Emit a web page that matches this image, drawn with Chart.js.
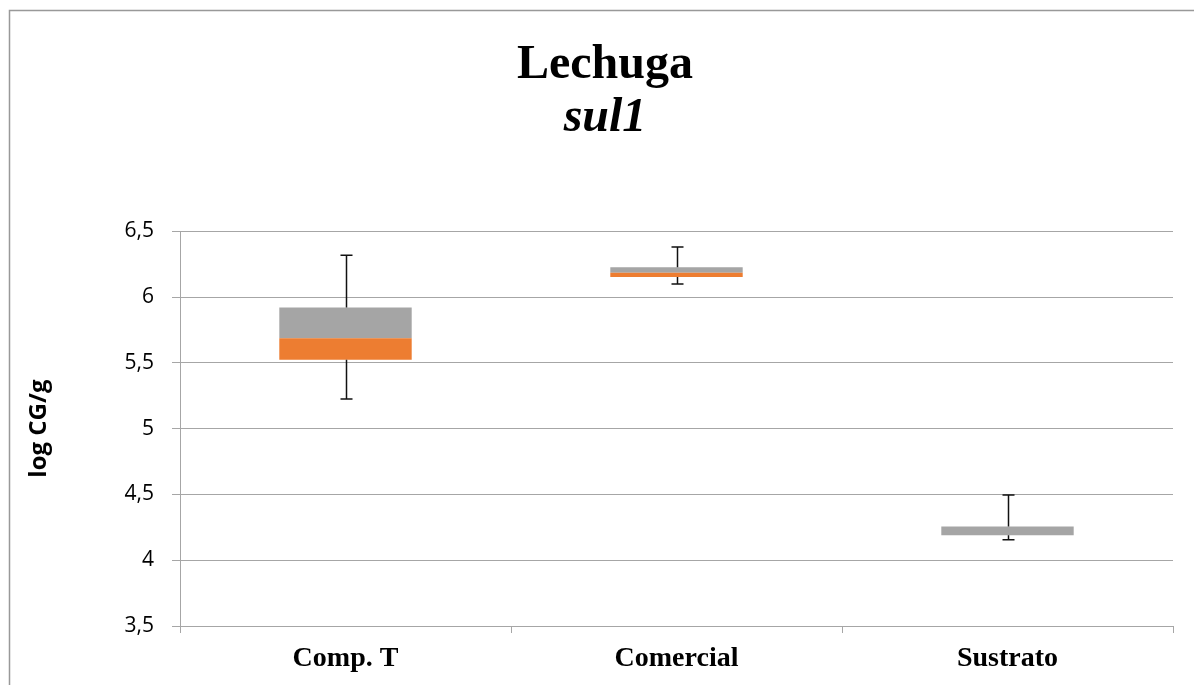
<!DOCTYPE html>
<html>
<head>
    <title>Lechuga sul1</title>
    <script src="https://cdn.jsdelivr.net/npm/chart.js@4/dist/chart.umd.min.js"></script>
    <style>
        html, body {
            margin: 0;
            padding: 0;
            background: #fff;
        }
        .chart-box {
            width: 1194px;
            height: 685px;
            position: relative;
        }
    </style>
</head>
<body>
    <div class="chart-box">
        <canvas id="graph"></canvas>
    </div>

    <script>
        // Box plot values per category (log CG/g)
        const categories = ['Comp. T', 'Comercial', 'Sustrato'];
        const minVals = [5.225, 6.098, 4.156];
        const q1Vals = [5.523, 6.152, 4.19];
        const medianVals = [5.687, 6.185, 4.19];
        const q3Vals = [5.92, 6.226, 4.256];
        const maxVals = [6.318, 6.38, 4.496];

        const gridColor = '#a6a6a6';

        // Outer frame of the chart, drawn before everything else
        const framePlugin = {
            id: 'frame',
            beforeDraw(chart) {
                const c = chart.ctx;
                c.save();
                c.fillStyle = '#fff';
                c.fillRect(0, 0, chart.width, chart.height);
                c.strokeStyle = '#999';
                c.lineWidth = 1.5;
                c.strokeRect(9.5, 10.5, chart.width + 20, chart.height + 20);
                c.restore();
            }
        };

        // Whiskers: from q3 up to max and from q1 down to min
        const whiskerPlugin = {
            id: 'whiskers',
            afterDatasetsDraw(chart) {
                const c = chart.ctx;
                const xs = chart.scales.x;
                const ys = chart.scales.y;
                const cap = 6;
                c.save();
                c.strokeStyle = '#111';
                c.lineWidth = 1.5;
                categories.forEach((_, i) => {
                    const x = Math.round(xs.getPixelForValue(i)) + 0.5;
                    const segs = [[q3Vals[i], maxVals[i]], [q1Vals[i], minVals[i]]];
                    segs.forEach(([from, to]) => {
                        const y0 = ys.getPixelForValue(from);
                        const y1 = ys.getPixelForValue(to);
                        c.beginPath();
                        c.moveTo(x, y0);
                        c.lineTo(x, y1);
                        c.moveTo(x - cap, y1);
                        c.lineTo(x + cap, y1);
                        c.stroke();
                    });
                });
                c.restore();
            }
        };

        const ctx = document.getElementById('graph').getContext('2d');

        const chart = new Chart(ctx, {
            type: 'bar',
            data: {
                labels: categories,
                datasets: [
                    {
                        label: 'Q1-Mediana',
                        data: q1Vals.map((v, i) => [v, medianVals[i]]),
                        backgroundColor: '#ED7D31',
                        borderSkipped: false,
                        categoryPercentage: 1,
                        barPercentage: 0.4
                    },
                    {
                        label: 'Mediana-Q3',
                        data: medianVals.map((v, i) => [v, q3Vals[i]]),
                        backgroundColor: '#A5A5A5',
                        borderSkipped: false,
                        categoryPercentage: 1,
                        barPercentage: 0.4
                    }
                ]
            },
            options: {
                responsive: true,
                maintainAspectRatio: false,
                animation: false,
                layout: {
                    padding: { left: 37, right: 21, top: 0, bottom: 0 }
                },
                datasets: {
                    bar: { grouped: false }
                },
                plugins: {
                    legend: { display: false },
                    tooltip: { enabled: false },
                    title: {
                        display: true,
                        text: 'Lechuga',
                        color: '#000',
                        font: { family: '"Liberation Serif", "Times New Roman", serif', size: 48, weight: 'bold', lineHeight: 1.2 },
                        padding: { top: 37, bottom: -5 }
                    },
                    subtitle: {
                        display: true,
                        text: 'sul1',
                        color: '#000',
                        font: { family: '"Liberation Serif", "Times New Roman", serif', size: 48, weight: 'bold', style: 'italic', lineHeight: 1.2 },
                        padding: { top: 0, bottom: 84 }
                    }
                },
                scales: {
                    x: {
                        afterFit(scale) { scale.height = 59; },
                        grid: {
                            offset: true,
                            drawOnChartArea: false,
                            drawTicks: true,
                            tickLength: 7,
                            color: gridColor
                        },
                        border: { color: gridColor, width: 1 },
                        ticks: {
                            color: '#000',
                            padding: 9,
                            font: { family: '"Liberation Serif", "Times New Roman", serif', size: 28, weight: 'bold' }
                        }
                    },
                    y: {
                        min: 3.5,
                        max: 6.5,
                        afterFit(scale) { scale.width = 143; },
                        grid: {
                            color: gridColor,
                            tickLength: 8
                        },
                        border: { color: gridColor, width: 1 },
                        ticks: {
                            stepSize: 0.5,
                            color: '#000',
                            padding: 18,
                            font: { family: '"Open Sans", sans-serif', size: 21 },
                            callback: v => String(v).replace('.', ',')
                        },
                        title: {
                            display: true,
                            text: 'log CG/g',
                            color: '#000',
                            font: { family: '"Open Sans", sans-serif', size: 24, weight: 'bold' },
                            padding: { top: -12, bottom: 0 }
                        }
                    }
                }
            },
            plugins: [framePlugin, whiskerPlugin]
        });
    </script>
</body>
</html>
